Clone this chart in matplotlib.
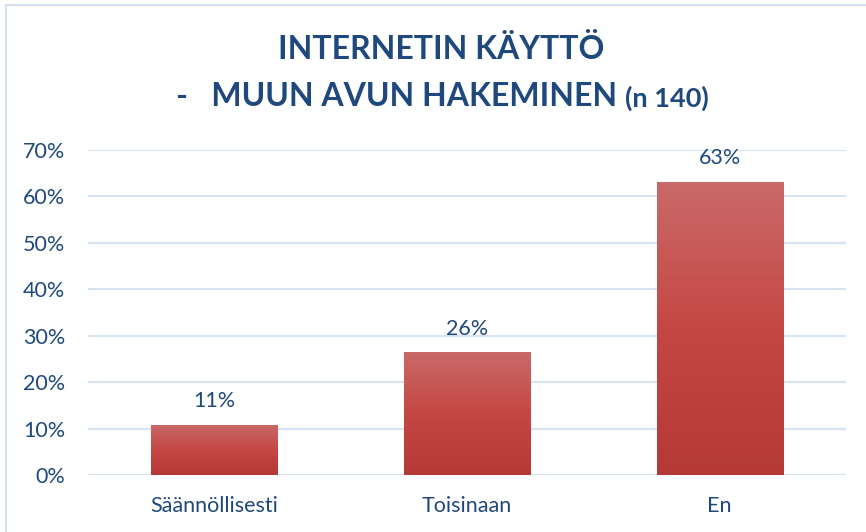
import matplotlib
matplotlib.use('Agg')
import matplotlib.pyplot as plt
import numpy as np
from matplotlib.colors import LinearSegmentedColormap
from matplotlib.patches import Rectangle

categories = ['Säännöllisesti', 'Toisinaan', 'En']
values = [10.8, 26.4, 63.1]
labels = ['11%', '26%', '63%']
yticks = [0, 10, 20, 30, 40, 50, 60, 70]

txt = '#1F497D'
plt.rcParams['font.family'] = ['Lato', 'DejaVu Sans']

fig = plt.figure(figsize=(8.66, 5.32), dpi=100)
ax = fig.add_axes([88/866, 1-475/532, (846-88)/866, (475-150)/532])

# chart border (only top and left show in the original)
fig.patches.append(Rectangle((6/866, -0.1), 1.2, 1 - 5/532 + 0.1, transform=fig.transFigure,
                             fill=False, edgecolor='#D5E0F0', linewidth=1.5))

x = np.arange(len(categories))
bars = ax.bar(x, values, width=0.5, color='none', zorder=3)

cmap = LinearSegmentedColormap.from_list('g', ['#B53937', '#C54744', '#C96A68'])
grad = np.linspace(0, 1, 256).reshape(-1, 1)
for b in bars:
    x0, w, h = b.get_x(), b.get_width(), b.get_height()
    im = ax.imshow(grad, cmap=cmap, origin='lower', aspect='auto',
                   extent=[x0, x0 + w, 0, h], zorder=3)
    im.set_clip_path(b)

for xi, v, lab in zip(x, values, labels):
    ax.text(xi, v + 3.0, lab, ha='center', va='bottom', fontsize=15.5, color=txt)

ax.set_xlim(-0.5, 2.5)
ax.set_ylim(0, 70)
ax.set_yticks(yticks)
ax.set_yticklabels([f'{t}%' for t in yticks], fontsize=15.5, color=txt)
ax.set_xticks(x)
ax.set_xticklabels(categories, fontsize=15.5, color=txt)
ax.tick_params(axis='both', length=0)
ax.tick_params(axis='y', pad=16.5)
ax.tick_params(axis='x', pad=15)
ax.grid(axis='y', color='#D5E3F3', linewidth=1.5, zorder=0)
ax.set_axisbelow(True)
for s in ax.spines.values():
    s.set_visible(False)

fig.text(441/866, 1 - 49/532, 'INTERNETIN KÄYTTÖ', ha='center', va='center',
         fontsize=23, fontweight='bold', color=txt)
main = fig.text(0, 1 - 97/532, '-   MUUN AVUN HAKEMINEN ', ha='left', va='center',
                fontsize=23, fontweight='bold', color=txt)
small = fig.text(0, 1 - 98/532, '(n 140)', ha='left', va='center',
                 fontsize=19.5, fontweight='bold', color=txt)
fig.canvas.draw()
r = fig.canvas.get_renderer()
w1 = main.get_window_extent(r).width
w2 = small.get_window_extent(r).width
start = 442 - (w1 + w2) / 2
main.set_x(start / 866)
small.set_x((start + w1) / 866)

fig.savefig('out.png', dpi=100, facecolor='white')
